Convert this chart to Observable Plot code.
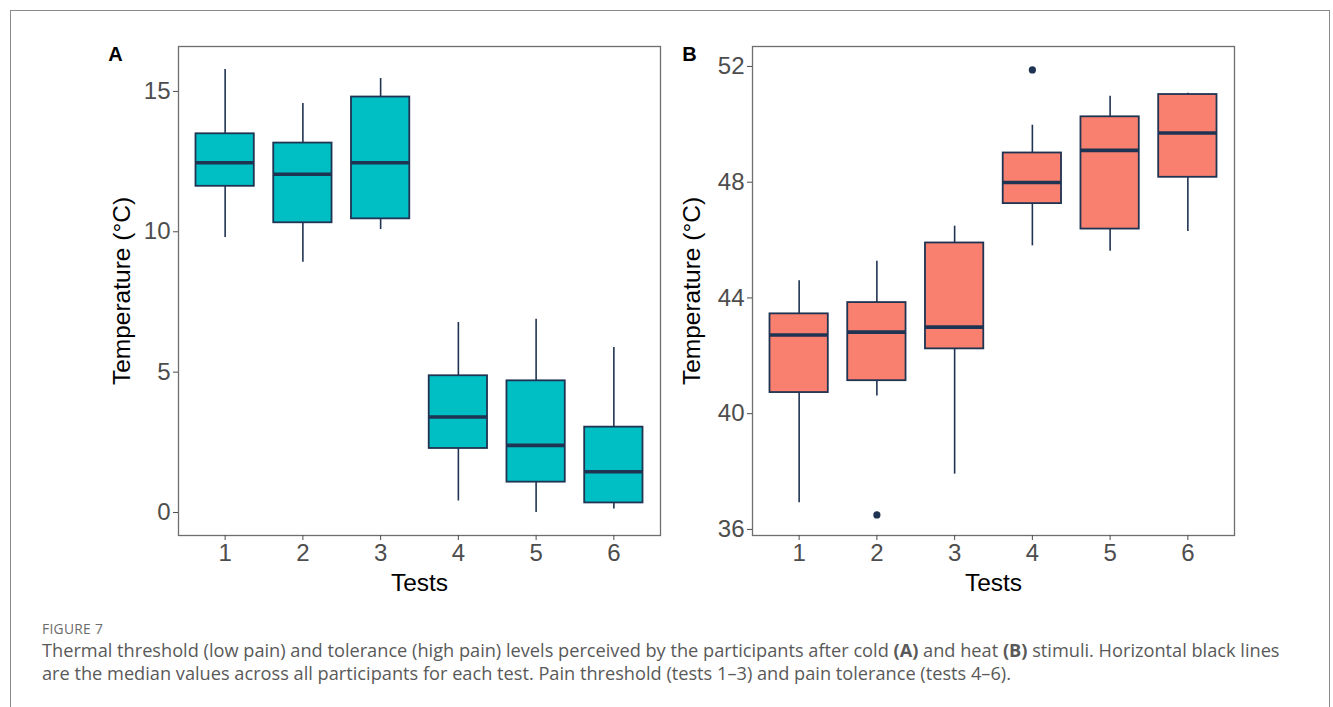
<!DOCTYPE html>
<html>
<head>
<meta charset="utf-8">
<script src="https://cdn.jsdelivr.net/npm/d3@7"></script>
<script src="https://cdn.jsdelivr.net/npm/@observablehq/plot@0.6"></script>
<style>
  html, body { margin: 0; padding: 0; background: #fff; }
  #page { position: relative; width: 1333px; height: 707px; overflow: hidden; }
  #border { position: absolute; left: 10px; top: 10px; width: 1320px; height: 720px; border: 1.5px solid #8a8a8a; box-sizing: border-box; }
  #panelA { position: absolute; left: 0; top: 0; }
  #panelB { position: absolute; left: 680px; top: 0; }
  #figlabel { position: absolute; left: 42px; top: 619px; font-family: "Open Sans", sans-serif; font-size: 13.8px; color: #6b6b6b; letter-spacing: 0.3px; }
  #caption { position: absolute; left: 42px; top: 639px; font-family: "Open Sans", sans-serif; font-size: 18.2px; line-height: 23px; color: #595959; white-space: nowrap; }
</style>
</head>
<body>
<div id="page">
  <div id="border"></div>
  <div id="panelA"></div>
  <div id="panelB"></div>
  <div id="figlabel">FIGURE 7</div>
  <div id="caption">Thermal threshold (low pain) and tolerance (high pain) levels perceived by the participants after cold <b>(A)</b> and heat <b>(B)</b> stimuli. Horizontal black lines<br>are the median values across all participants for each test. Pain threshold (tests 1–3) and pain tolerance (tests 4–6).</div>
</div>
<script>
// ---- data ----
const tests = [1, 2, 3, 4, 5, 6];

// Panel A: cold stimuli (°C)
const coldLow    = [9.80, 8.91, 10.08, 0.41, 0.00, 0.12];
const coldQ1     = [11.62, 10.32, 10.46, 2.28, 1.08, 0.34];
const coldMedian = [12.46, 12.05, 12.46, 3.40, 2.39, 1.45];
const coldQ3     = [13.49, 13.16, 14.80, 4.87, 4.69, 3.04];
const coldHigh   = [15.78, 14.57, 15.46, 6.77, 6.88, 5.88];
const coldOutlierTests = [];
const coldOutlierValues = [];

// Panel B: heat stimuli (°C)
const heatLow    = [36.92, 40.61, 37.91, 45.80, 45.61, 46.30];
const heatQ1     = [40.73, 41.14, 42.24, 47.26, 46.38, 48.17];
const heatMedian = [42.72, 42.82, 42.99, 47.99, 49.10, 49.70];
const heatQ3     = [43.45, 43.84, 45.90, 49.01, 50.26, 51.03];
const heatHigh   = [44.59, 45.27, 46.48, 49.97, 50.97, 51.07];
const heatOutlierTests = [2, 4];
const heatOutlierValues = [36.50, 51.88];

const coldTicks = [0, 5, 10, 15];
const heatTicks = [36, 40, 44, 48, 52];

const navy = "#1f3352";

function makePanel({low, q1, med, q3, high, outT, outV, fill, yDomain, yTicks, letter, yLabelDx, marginLeft, marginRight}) {
  const rows = tests.map((t, i) => ({t, low: low[i], q1: q1[i], med: med[i], q3: q3[i], high: high[i]}));
  const outliers = outT.map((t, i) => ({t, v: outV[i]}));
  const hw = 0.375;
  return Plot.plot({
    width: marginLeft + 482 + marginRight,
    height: 610,
    marginLeft, marginRight,
    marginTop: 46,
    marginBottom: 75,
    style: {color: "#4d4d4d", background: "transparent", fontFamily: "'Liberation Sans', Arial, sans-serif", overflow: "visible"},
    x: {domain: [0.4, 6.6]},
    y: {domain: yDomain},
    marks: [
      Plot.ruleX(rows, {x: "t", y1: "low", y2: "q1", stroke: navy, strokeWidth: 1.6}),
      Plot.ruleX(rows, {x: "t", y1: "q3", y2: "high", stroke: navy, strokeWidth: 1.6}),
      Plot.rect(rows, {x1: d => d.t - hw, x2: d => d.t + hw, y1: "q1", y2: "q3", fill, stroke: navy, strokeWidth: 1.8}),
      Plot.ruleY(rows, {x1: d => d.t - hw, x2: d => d.t + hw, y: "med", stroke: navy, strokeWidth: 3.6}),
      Plot.dot(outliers, {x: "t", y: "v", r: 3.6, fill: navy, stroke: null}),
      Plot.frame({stroke: "#6e6e6e", strokeWidth: 1.3}),
      Plot.axisY({ticks: yTicks, tickSize: 5, tickPadding: 3, fontSize: 24, label: null, tickFormat: d => String(d)}),
      Plot.axisX({ticks: tests, tickSize: 5, tickPadding: 3, fontSize: 24, label: null, tickFormat: d => String(d)}),
      Plot.text(["Temperature (°C)"], {frameAnchor: "left", dx: yLabelDx, rotate: -90, textAnchor: "middle", text: d => d, fontSize: 24.5, fill: "black"}),
      Plot.text(["Tests"], {frameAnchor: "bottom", dy: 55, textAnchor: "middle", text: d => d, fontSize: 24.5, fill: "black"}),
      Plot.text([letter], {frameAnchor: "top-left", dx: -63, dy: 0, textAnchor: "middle", text: d => d, fontSize: 20, fontWeight: "bold", fill: "black"})
    ]
  });
}

document.getElementById("panelA").append(makePanel({
  low: coldLow, q1: coldQ1, med: coldMedian, q3: coldQ3, high: coldHigh,
  outT: coldOutlierTests, outV: coldOutlierValues,
  fill: "#00BFC4", yDomain: [-0.82, 16.6], yTicks: coldTicks, letter: "A",
  yLabelDx: -56, marginLeft: 178, marginRight: 20
}));

document.getElementById("panelB").append(makePanel({
  low: heatLow, q1: heatQ1, med: heatMedian, q3: heatQ3, high: heatHigh,
  outT: heatOutlierTests, outV: heatOutlierValues,
  fill: "#F9806F", yDomain: [35.79, 52.69], yTicks: heatTicks, letter: "B",
  yLabelDx: -60, marginLeft: 72, marginRight: 28
}));
</script>
</body>
</html>
